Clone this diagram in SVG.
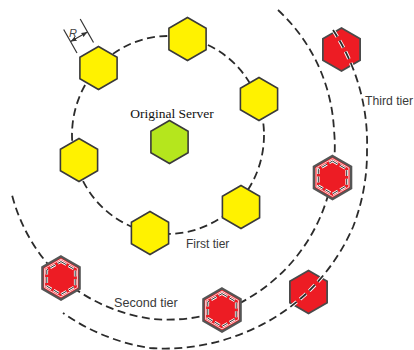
<svg xmlns="http://www.w3.org/2000/svg" xmlns:xlink="http://www.w3.org/1999/xlink" width="414" height="350" viewBox="0 0 414 350">
<style>
.dash{fill:none;stroke:#2b2b2b;stroke-width:1.8;stroke-dasharray:8 4.5}
.halo{fill:none;stroke:#fff;stroke-width:3.6;stroke-dasharray:8 4.5}
.yel{fill:#fff200;stroke:#3a3a3a;stroke-width:1.6}
.grn{fill:#b5e61d;stroke:#3a3a3a;stroke-width:1.6}
.red{fill:#ed1c24;stroke:#4a4a4a;stroke-width:1.8}
.redb{fill:#ed1c24;stroke:#555;stroke-width:2.4}
.wline{fill:none;stroke:#fff;stroke-width:0.8}
.idw{fill:none;stroke:#fff;stroke-width:2.6;stroke-dasharray:6 2.6}
.idd{fill:none;stroke:#333;stroke-width:1;stroke-dasharray:6 2.6}
.lbl{font-family:"Liberation Sans",Arial,sans-serif;font-size:12.3px;fill:#3a3a3a}
.srv{font-family:"Liberation Serif","Times New Roman",serif;font-size:13.5px;fill:#111}
.dim{stroke:#333;stroke-width:1.2;fill:none}
</style>
<defs>
<polygon id="hx" points="0,-21.5 18.6,-10.75 18.6,10.75 0,21.5 -18.6,10.75 -18.6,-10.75"/>
<polygon id="hxw" points="0,-18.9 16.4,-9.5 16.4,9.5 0,18.9 -16.4,9.5 -16.4,-9.5"/>
<polygon id="hxi" points="0,-16.4 14.2,-8.2 14.2,8.2 0,16.4 -14.2,8.2 -14.2,-8.2"/>
<marker id="ah" viewBox="0 0 10 10" refX="10" refY="5" markerWidth="6" markerHeight="6" orient="auto-start-reverse" markerUnits="userSpaceOnUse">
<path d="M0,1 L10,5 L0,9 z" fill="#333"/>
</marker>
</defs>

<g id="connectors">
<ellipse class="dash" cx="168" cy="135" rx="96" ry="99"/>
<path class="dash" d="M278,10 A175,175 0 0 1 334,130 A175,175 0 0 1 332,178 A175,175 0 0 1 222,311 A175,175 0 0 1 153,319 A175,175 0 0 1 61,278 A175,175 0 0 1 12,195"/>
</g>

<g id="dimension-R">
<line class="dim" x1="77" y1="53" x2="63.7" y2="29.5"/>
<line class="dim" x1="93.5" y1="42.5" x2="80.2" y2="19"/>
<line class="dim" x1="70.6" y1="41.6" x2="87.5" y2="32" marker-start="url(#ah)" marker-end="url(#ah)"/>
<text x="69" y="36.5" style="font-family:'Liberation Sans',Arial,sans-serif;font-size:11px;font-style:italic;fill:#444">R</text>
</g>

<g id="original-server">
<use xlink:href="#hx" href="#hx" class="grn" transform="translate(169.5,142)"/>
<text class="srv" x="172" y="118" text-anchor="middle">Original Server</text>
</g>

<g id="t1-node1"><use href="#hx" class="yel" transform="translate(98.5,68)"/></g>
<g id="t1-node2"><use href="#hx" class="yel" transform="translate(187.5,39)"/></g>
<g id="t1-node3"><use href="#hx" class="yel" transform="translate(259,99)"/></g>
<g id="t1-node4"><use href="#hx" class="yel" transform="translate(79,160)"/></g>
<g id="t1-node5"><use href="#hx" class="yel" transform="translate(241,207)"/></g>
<g id="t1-node6"><use href="#hx" class="yel" transform="translate(150,233)"/></g>

<g id="t2-node1" transform="translate(61,278)">
<use href="#hx" class="redb"/><use href="#hxw" class="wline"/><use href="#hxi" class="idw"/><use href="#hxi" class="idd"/>
</g>
<g id="t2-node2" transform="translate(222,310)">
<use href="#hx" class="redb"/><use href="#hxw" class="wline"/><use href="#hxi" class="idw"/><use href="#hxi" class="idd"/>
</g>
<g id="t2-node3" transform="translate(332.5,177.5)">
<use href="#hx" class="redb"/><use href="#hxw" class="wline"/><use href="#hxi" class="idw"/><use href="#hxi" class="idd"/>
</g>

<g id="t3-node1"><use href="#hx" class="red" transform="translate(341.5,49.5)"/></g>
<g id="t3-node2"><use href="#hx" class="red" transform="translate(308.5,292)"/></g>

<g id="connectors-tier3">
<path class="halo" d="M333,30 A205,205 0 0 1 367,150 A205,205 0 0 1 353,227 A205,205 0 0 1 308,292 A205,205 0 0 1 230,338 A205,205 0 0 1 150,348 A205,205 0 0 1 63,313"/>
<path class="dash" d="M333,30 A205,205 0 0 1 367,150 A205,205 0 0 1 353,227 A205,205 0 0 1 308,292 A205,205 0 0 1 230,338 A205,205 0 0 1 150,348 A205,205 0 0 1 63,313"/>
</g>

<g id="labels">
<text class="lbl" x="186" y="248" style="font-size:12px">First tier</text>
<text class="lbl" x="114" y="307" style="font-size:12.6px">Second tier</text>
<text class="lbl" x="365" y="105" style="font-size:12.2px">Third tier</text>
</g>
</svg>
